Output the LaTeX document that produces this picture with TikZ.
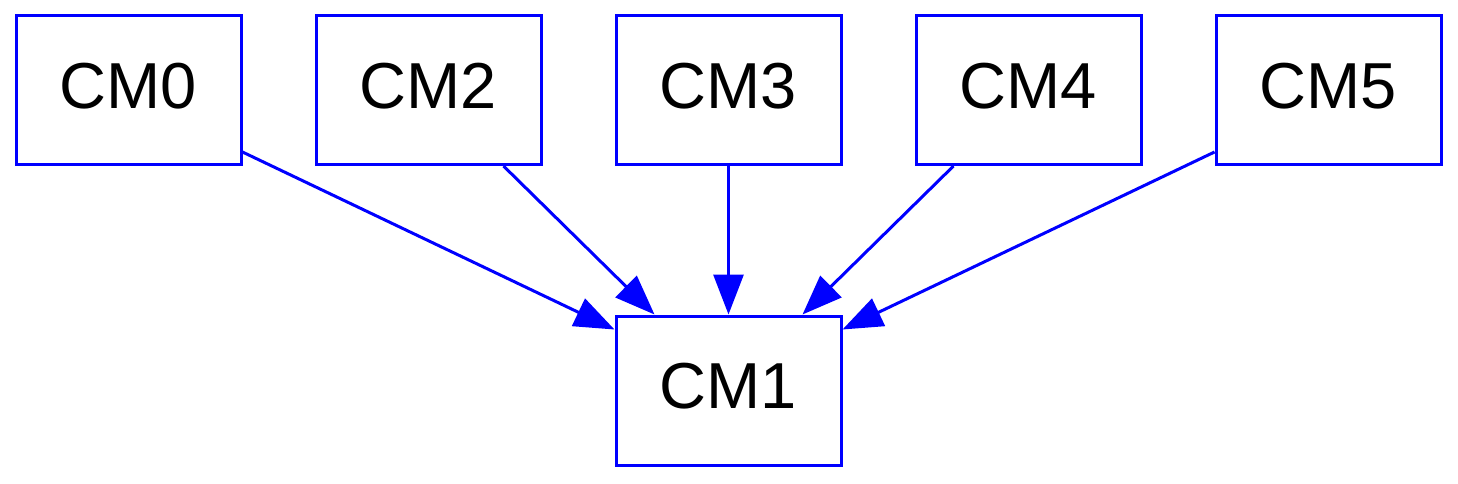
\documentclass[tikz,border=0pt]{standalone}
\usepackage{fontspec}
\setmainfont{Liberation Sans}
\usetikzlibrary{arrows.meta,calc}
\definecolor{gvblue}{RGB}{0,0,255}
\tikzset{
  box/.style={draw=gvblue, line width=3pt, minimum width=225pt, minimum height=149pt, inner sep=0pt, text height=46pt, text depth=10pt, font=\fontsize{65}{70}\selectfont, text=black},
  edge/.style={draw=gvblue, line width=3pt, -{Triangle[length=40pt,width=30pt]}, fill=gvblue}
}
\begin{document}
\begin{tikzpicture}[x=1pt,y=-1pt]
\useasboundingbox (0,0) rectangle (1458,483);
\node[box] (cm0) at (128.5,90) {CM0};
\node[box] (cm2) at (428.5,90) {CM2};
\node[box] (cm3) at (728.5,90) {CM3};
\node[box] (cm4) at (1028.5,90) {CM4};
\node[box] (cm5) at (1328.5,90) {CM5};
\node[box] (cm1) at (728.5,390.5) {CM1};
\coordinate (s0) at ($(cm0.south east)+(0,-14)$);
\coordinate (e0) at ($(cm1.north west)+(0,15)$);
\coordinate (s2) at ($(cm2.south)+(75,0)$);
\coordinate (e2) at ($(cm1.north)+(-74,0)$);
\coordinate (s4) at ($(cm4.south)+(-75,0)$);
\coordinate (e4) at ($(cm1.north)+(74,0)$);
\coordinate (s5) at ($(cm5.south west)+(0,-14)$);
\coordinate (e5) at ($(cm1.north east)+(0,15)$);
\draw[edge] (s0) -- (e0);
\draw[edge] (s2) -- (e2);
\draw[edge] (cm3.south) -- (cm1.north);
\draw[edge] (s4) -- (e4);
\draw[edge] (s5) -- (e5);
\end{tikzpicture}
\end{document}
